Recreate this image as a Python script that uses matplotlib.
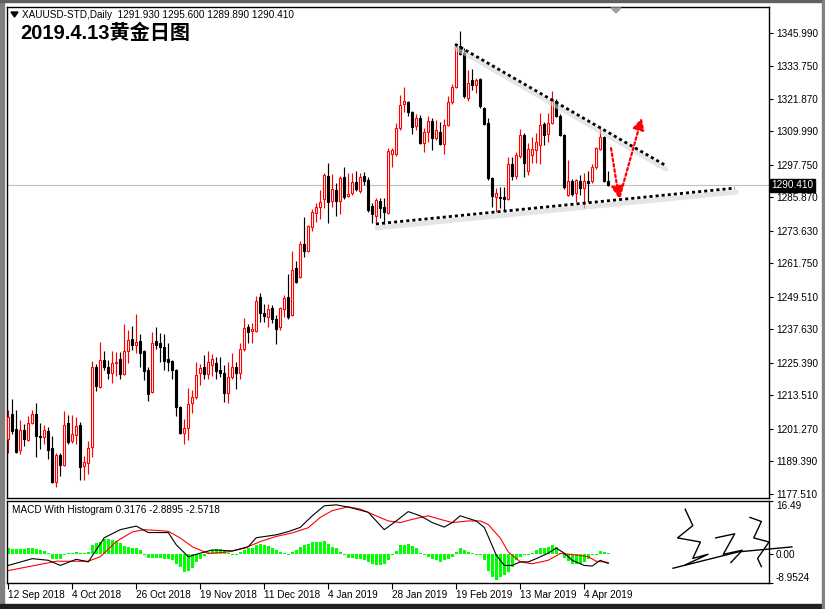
import matplotlib
matplotlib.use("Agg")
import numpy as np
import matplotlib.pyplot as plt
from matplotlib.patches import Rectangle, Polygon
from matplotlib.transforms import offset_copy, blended_transform_factory

# daily XAUUSD candles, 12 Sep 2018 .. 12 Apr 2019
opens = [1197.6, 1206.7, 1201.3, 1193.6, 1200.9, 1197.2, 1203.4, 1206.7, 1198.7, 1198.3,
         1200.5, 1194.3, 1181.9, 1191.8, 1188.1, 1203.4, 1196.9, 1199.1, 1202.7, 1187.7,
         1188.8, 1194.7, 1223.9, 1216.6, 1226.5, 1223.9, 1221.7, 1225.4, 1226.8, 1221.4,
         1229.8, 1234.2, 1232.0, 1233.4, 1229.8, 1222.8, 1214.8, 1233.4, 1232.7, 1231.2,
         1226.8, 1226.1, 1222.8, 1209.3, 1199.8, 1201.6, 1210.8, 1212.9, 1221.7, 1223.9,
         1221.4, 1224.6, 1225.4, 1222.8, 1221.7, 1214.4, 1220.3, 1223.9, 1221.7, 1230.5,
         1238.5, 1237.1, 1237.1, 1249.5, 1243.7, 1242.2, 1245.5, 1241.5, 1238.5, 1245.1,
         1249.5, 1242.9, 1260.1, 1256.8, 1268.9, 1266.3, 1275.1, 1280.2, 1282.4, 1285.3,
         1293.7, 1284.6, 1288.6, 1284.6, 1293.3, 1286.4, 1287.5, 1291.5, 1288.2, 1293.7,
         1292.3, 1282.8, 1279.1, 1284.6, 1282.4, 1280.2, 1301.8, 1301.8, 1311.3, 1320.1,
         1320.8, 1317.1, 1312.0, 1314.9, 1305.8, 1309.8, 1313.8, 1307.6, 1309.8, 1305.4,
         1312.4, 1320.8, 1326.3, 1341.2, 1338.7, 1322.2, 1328.8, 1327.0, 1329.2, 1318.6,
         1313.1, 1293.0, 1286.1, 1286.1, 1286.1, 1285.3, 1298.1, 1293.7, 1301.1, 1308.7,
         1295.5, 1301.4, 1303.2, 1305.0, 1312.7, 1309.1, 1313.1, 1321.1, 1315.6, 1308.7,
         1286.8, 1291.9, 1287.5, 1291.9, 1289.3, 1291.9, 1291.9, 1297.0, 1303.6, 1307.9,
         1291.93]
highs = [1208.2, 1212.2, 1208.2, 1204.5, 1203.1, 1206.0, 1208.2, 1210.8, 1203.4, 1202.7,
         1202.0, 1198.7, 1192.5, 1192.5, 1207.8, 1206.4, 1206.4, 1205.6, 1203.8, 1191.4,
         1196.9, 1226.1, 1225.0, 1233.1, 1229.8, 1226.5, 1229.8, 1229.4, 1229.4, 1239.6,
         1237.4, 1238.9, 1243.3, 1235.9, 1230.1, 1223.9, 1236.7, 1238.5, 1236.3, 1235.9,
         1232.7, 1226.5, 1223.2, 1209.6, 1204.9, 1216.2, 1215.5, 1225.7, 1225.0, 1228.3,
         1229.8, 1228.6, 1227.5, 1227.5, 1224.6, 1225.7, 1229.0, 1225.7, 1232.7, 1241.8,
         1239.6, 1240.0, 1249.9, 1250.9, 1246.9, 1246.9, 1246.6, 1242.9, 1245.8, 1250.2,
         1257.9, 1266.3, 1262.7, 1270.0, 1278.7, 1275.8, 1281.6, 1283.8, 1288.6, 1294.8,
         1298.5, 1294.5, 1291.2, 1293.7, 1297.0, 1294.8, 1294.8, 1295.5, 1294.8, 1295.2,
         1293.3, 1283.9, 1285.7, 1285.7, 1285.7, 1304.0, 1304.0, 1313.1, 1323.3, 1326.3,
         1321.1, 1317.5, 1316.4, 1316.0, 1311.3, 1315.6, 1314.9, 1314.2, 1313.5, 1314.6,
         1322.9, 1327.4, 1341.9, 1346.7, 1340.5, 1332.5, 1332.8, 1329.5, 1329.5, 1318.9,
         1314.9, 1293.3, 1289.3, 1289.7, 1289.7, 1300.7, 1300.7, 1302.5, 1310.9, 1309.4,
         1305.8, 1308.0, 1309.4, 1316.7, 1313.5, 1316.7, 1324.8, 1321.9, 1316.4, 1308.9,
         1299.6, 1292.6, 1292.6, 1294.1, 1294.8, 1295.5, 1298.1, 1304.3, 1312.0, 1308.3,
         1295.60]
lows = [1192.5, 1199.4, 1192.5, 1192.1, 1195.0, 1196.9, 1203.1, 1191.0, 1193.9, 1195.8,
        1190.3, 1181.5, 1180.1, 1184.1, 1187.9, 1195.8, 1196.1, 1195.8, 1182.6, 1182.6,
        1184.8, 1191.0, 1215.1, 1216.2, 1222.8, 1219.5, 1218.1, 1220.6, 1219.5, 1221.0,
        1225.4, 1230.1, 1229.0, 1223.9, 1219.2, 1211.5, 1214.4, 1230.5, 1225.7, 1222.8,
        1222.5, 1219.5, 1206.0, 1199.4, 1195.8, 1197.2, 1207.1, 1212.2, 1217.3, 1219.5,
        1219.5, 1220.6, 1219.5, 1220.3, 1211.1, 1210.8, 1219.5, 1215.9, 1219.5, 1229.8,
        1232.7, 1232.7, 1236.7, 1240.4, 1240.4, 1238.5, 1240.0, 1232.3, 1237.4, 1242.2,
        1241.5, 1242.6, 1254.6, 1256.6, 1264.1, 1265.9, 1273.6, 1276.9, 1278.0, 1282.0,
        1276.5, 1282.4, 1279.1, 1279.8, 1285.3, 1286.1, 1286.8, 1288.2, 1287.5, 1290.4,
        1280.6, 1276.5, 1276.9, 1278.4, 1276.2, 1279.8, 1297.0, 1301.1, 1310.5, 1317.1,
        1315.6, 1309.1, 1310.5, 1305.4, 1302.5, 1306.1, 1303.2, 1306.9, 1305.0, 1301.8,
        1312.0, 1320.1, 1325.9, 1337.9, 1322.2, 1321.1, 1325.2, 1324.1, 1318.6, 1312.4,
        1292.3, 1282.4, 1280.6, 1282.0, 1281.3, 1285.0, 1292.3, 1292.6, 1300.3, 1293.3,
        1294.1, 1298.5, 1298.5, 1298.1, 1305.0, 1306.1, 1312.9, 1315.3, 1308.5, 1289.0,
        1286.4, 1286.4, 1284.2, 1286.8, 1282.0, 1284.2, 1291.2, 1296.3, 1303.2, 1291.5,
        1289.89]
closes = [1205.6, 1200.5, 1192.9, 1200.9, 1197.6, 1203.4, 1206.7, 1198.7, 1198.4, 1200.9,
          1193.6, 1181.9, 1191.8, 1188.1, 1202.7, 1196.5, 1199.4, 1202.3, 1187.4, 1189.2,
          1194.3, 1223.9, 1217.0, 1226.5, 1223.9, 1221.7, 1225.4, 1225.7, 1221.4, 1229.8,
          1233.8, 1232.0, 1233.1, 1229.0, 1222.5, 1214.0, 1232.7, 1232.0, 1231.2, 1226.1,
          1225.7, 1222.8, 1209.3, 1199.8, 1201.6, 1210.4, 1212.9, 1221.0, 1223.6, 1221.4,
          1225.7, 1226.8, 1222.5, 1221.7, 1214.4, 1220.3, 1223.9, 1221.7, 1230.5, 1238.2,
          1236.7, 1237.8, 1248.0, 1243.7, 1242.6, 1245.1, 1241.5, 1237.8, 1245.5, 1249.1,
          1242.2, 1259.4, 1255.0, 1268.9, 1266.3, 1275.4, 1280.6, 1282.4, 1284.2, 1294.1,
          1284.2, 1289.0, 1284.6, 1293.0, 1286.1, 1287.2, 1291.5, 1289.0, 1293.3, 1291.9,
          1281.3, 1279.8, 1285.0, 1282.0, 1280.6, 1302.9, 1303.2, 1311.3, 1319.7, 1321.1,
          1317.1, 1311.6, 1314.9, 1305.8, 1309.8, 1313.8, 1307.6, 1310.5, 1305.4, 1312.4,
          1320.8, 1326.3, 1340.9, 1338.3, 1323.0, 1327.7, 1327.0, 1328.8, 1319.3, 1312.7,
          1293.0, 1286.4, 1287.5, 1285.7, 1285.3, 1298.1, 1293.7, 1301.4, 1308.7, 1298.5,
          1303.6, 1303.6, 1306.1, 1312.4, 1308.7, 1313.1, 1321.5, 1315.6, 1308.7, 1289.7,
          1291.9, 1287.2, 1292.3, 1289.3, 1291.9, 1291.2, 1297.0, 1303.9, 1307.9, 1291.9,
          1290.41]

hist = [1.80, 1.59, 1.48, 1.48, 1.48, 1.80, 2.01, 1.48, 1.27, 0.95,
        0.21, -1.38, -1.38, -1.38, -0.11, 0.21, 0.21, 0.74, 0.21, 0.21,
        0.53, 2.86, 3.39, 3.92, 4.66, 4.66, 4.45, 4.13, 3.39, 2.65,
        2.33, 2.01, 1.80, 1.27, -0.11, -1.17, -1.17, -1.17, -1.17, -1.38,
        -1.59, -1.91, -2.97, -4.03, -5.41, -5.09, -4.35, -2.44, -1.38, -0.64,
        0.53, 1.27, 1.59, 1.59, 0.95, 0.21, -0.11, -0.11, 0.74, 1.27,
        1.80, 2.01, 2.86, 3.07, 2.86, 2.65, 2.01, 1.27, 0.53, 0.21,
        -0.11, 0.74, 1.27, 2.33, 2.86, 3.18, 3.71, 3.92, 3.92, 4.13,
        3.07, 2.33, 1.80, 0.74, -0.11, -1.17, -1.17, -1.38, -1.38, -1.91,
        -2.44, -3.18, -3.50, -3.50, -2.97, -1.91, -0.32, 0.95, 2.86, 2.86,
        3.07, 2.65, 2.01, 0.21, -0.32, -0.85, -1.38, -1.91, -2.44, -1.91,
        -1.38, -0.85, 0.74, 1.80, 1.27, 0.74, 0.21, -0.11, -0.11, -1.91,
        -5.09, -7.21, -7.95, -7.21, -6.47, -5.41, -4.03, -1.91, -0.85, -0.11,
        -0.11, 0.21, 1.27, 1.80, 2.01, 2.33, 2.86, 2.33, 0.21, -1.17,
        -2.23, -2.97, -2.97, -2.97, -2.44, -1.38, -0.11, -0.11, 0.95, 0.53,
        0.21]

macd_bar = [0, 6, 10, 13, 17, 20, 24, 28, 32, 35, 40, 42, 45, 48, 51, 56, 60, 62, 67, 70,
            73, 76, 79, 82, 85, 90, 92, 94, 97, 100, 103, 106, 109, 111, 113, 115, 117, 119,
            120, 122, 124, 126, 128, 130, 132, 135, 137, 139, 141, 144, 146, 148, 150]
macd_val = [-3.5, -1.4, -1.9, -3.5, -1.6, -2.4, 5.1, 7.6, 8.7, 6.7, 6.7, 2.9, -0.8, 0.3, 1.3,
            1.0, 2.3, 5.1, 6.0, 7.0, 8.3, 11.9, 15.0, 15.3, 14.6, 13.0, 10.3, 7.6, 10.3, 13.2,
            11.9, 9.8, 8.4, 9.8, 11.9, 11.1, 10.3, 8.3, 5.5, -0.3, -3.5, -3.5, -2.4, -2.4,
            -1.4, 0.3, 1.9, 0.3, -1.9, -3.5, -3.7, -1.9, -2.89]
signal_bar = [0, 12, 20, 23, 27, 31, 34, 40, 43, 46, 50, 55, 59, 63, 67, 71, 75, 78, 81, 85,
              88, 91, 95, 98, 101, 105, 108, 111, 115, 118, 120, 123, 125, 128, 131, 135,
              138, 141, 145, 147, 150]
signal_val = [-5.1, -2.2, -2.2, -0.8, 3.9, 6.9, 7.6, 7.1, 5.0, 2.3, 0.2, 0.7, 1.8, 3.9, 5.5,
              6.6, 8.2, 11.4, 13.5, 14.7, 14.0, 12.4, 10.3, 9.8, 10.8, 11.9, 10.8, 9.8, 10.3,
              10.3, 9.2, 5.0, 0.7, -2.4, -3.0, -1.9, 0.2, -0.1, -0.8, -2.2, -2.57]

date_bars = [0, 16, 32, 48, 64, 80, 96, 112, 128, 144]
date_labels = ["12 Sep 2018", "4 Oct 2018", "26 Oct 2018", "19 Nov 2018", "11 Dec 2018",
               "4 Jan 2019", "28 Jan 2019", "19 Feb 2019", "13 Mar 2019", "4 Apr 2019"]
price_ticks = [1345.990, 1333.750, 1321.870, 1309.990, 1297.750, 1285.870, 1273.630,
               1261.750, 1249.510, 1237.630, 1225.390, 1213.510, 1201.270, 1189.390, 1177.510]
last_price = 1290.410

# drawn trend lines (bar index, price)
upper_x, upper_y = [111.7, 164.2], [1341.9, 1297.7]
lower_x, lower_y = [91.9, 181.7], [1276.2, 1289.3]
arrow_down = [(150.7, 1303.9), (152.7, 1285.6)]
arrow_up = [(152.9, 1286.3), (158.4, 1315.0)]

W, H = 825, 609
FONT = "Liberation Sans"
plt.rcParams['font.family'] = [FONT, 'DejaVu Sans']


def box(x0, y0, x1, y1):
    return [x0 / W, 1 - y1 / H, (x1 - x0) / W, (y1 - y0) / H]


fig = plt.figure(figsize=(W / 100, H / 100), dpi=100)
fig.patch.set_facecolor('white')

ax = fig.add_axes(box(7, 7, 769, 498))
axm = fig.add_axes(box(7, 501, 769, 583))

o, h, l, c = map(np.array, (opens, highs, lows, closes))
x = np.arange(len(o))
up = c >= o
col = np.where(up, 'red', 'black')

ax.axhline(last_price, color='#c0c0c0', lw=0.8, zorder=1)
ax.vlines(x, l, h, colors=col, lw=0.85, zorder=2)
ax.bar(x, np.abs(c - o), 0.58, bottom=np.minimum(o, c),
       facecolor=np.where(up, 'white', 'black'), edgecolor=col, linewidth=0.8, zorder=3)

# trend lines with a soft shadow
sh = offset_copy(ax.transData, fig=fig, x=1, y=-4, units='dots')
for xs, ys in ((upper_x, upper_y), (lower_x, lower_y)):
    ax.plot(xs, ys, color='#d4d4d4', lw=3.5, alpha=0.6, transform=sh, zorder=4,
            solid_capstyle='round')
    ax.plot(xs, ys, color='black', lw=2.0, linestyle=(0, (1.1, 1.1)),
            dash_capstyle='butt', zorder=5)

for (x0, y0), (x1, y1) in (arrow_down, arrow_up):
    ax.annotate('', xy=(x1, y1), xytext=(x0, y0),
                arrowprops=dict(arrowstyle='-|>,head_length=0.7,head_width=0.35',
                                color='red', lw=1.6, linestyle=(0, (1.2, 1.2)),
                                shrinkA=0, shrinkB=0), zorder=6)

ax.set_xlim(-0.325, 190.2)
ax.set_ylim(1176.03, 1355.49)
ax.set_xticks([])
ax.yaxis.tick_right()
ax.set_yticks(price_ticks)
ax.set_yticklabels([f"{v:.3f}" for v in price_ticks])
ax.tick_params(axis='y', direction='out', length=3, width=0.8, pad=2, labelsize=7.2,
               colors='black')

tr = blended_transform_factory(ax.transAxes, ax.transData)
ax.text(1.003, last_price, f"{last_price:.3f}", transform=tr, ha='left', va='center',
        color='white', fontsize=7.2,
        bbox=dict(boxstyle='square,pad=0.15', facecolor='black', edgecolor='black'))

for a in (ax, axm):
    for s in a.spines.values():
        s.set_color('black')
        s.set_linewidth(1.0)

# MACD panel
axm.bar(x, hist, 0.7, color='#00ff00', linewidth=0, zorder=2)
axm.plot(signal_bar, signal_val, color='red', lw=0.8, zorder=3)
axm.plot(macd_bar, macd_val, color='black', lw=0.8, zorder=4)
axm.set_xlim(-0.325, 190.2)
axm.set_ylim(-8.9524, 16.49)
axm.yaxis.tick_right()
axm.set_yticks([16.49, 0.0, -8.9524])
axm.set_yticklabels(["16.49", "0.00", "-8.9524"])
axm.tick_params(axis='y', direction='out', length=3, width=0.8, pad=2, labelsize=7.2)
ylabs = axm.get_yticklabels()
ylabs[0].set_va('top')
ylabs[2].set_va('bottom')
axm.set_xticks(date_bars)
axm.set_xticklabels(date_labels, ha='left')
axm.tick_params(axis='x', direction='out', length=4, width=0.8, pad=1, labelsize=7.2)
axm.text(0.007, 0.95, "MACD With Histogram 0.3176 -2.8895 -2.5718", transform=axm.transAxes,
         ha='left', va='top', fontsize=7.2)

# signature (rough strokes)
sig = axm.transAxes
sx = [[0.874, 0.96, 1.03], [0.89, 0.9, 0.88, 0.91, 0.9, 0.92, 0.89],
      [0.93, 0.955, 0.94, 0.965, 0.95], [0.975, 0.99, 0.98, 1.0, 0.985, 0.99]]
sy = [[0.18, 0.38, 0.44], [0.9, 0.7, 0.55, 0.5, 0.3, 0.35, 0.22],
      [0.55, 0.6, 0.35, 0.4, 0.25], [0.8, 0.75, 0.55, 0.5, 0.3, 0.2]]
for xs, ys in zip(sx, sy):
    axm.plot(xs, ys, color='black', lw=1.0, transform=sig, clip_on=False, zorder=6)

# header texts
fig.text(22 / W, 1 - 15 / H, "XAUUSD-STD,Daily  1291.930 1295.600 1289.890 1290.410",
         ha='left', va='center', fontsize=7.2)
fig.patches.append(Polygon([[11 / W, 1 - 12 / H], [18 / W, 1 - 12 / H], [14.5 / W, 1 - 17 / H]],
                           closed=True, transform=fig.transFigure, color='black'))
fig.text(20 / W, 1 - 33 / H, "2019.4.13黄金日图", ha='left', va='center', fontsize=14.5,
         fontweight='bold', family=[FONT, 'Noto Sans CJK SC'])
fig.patches.append(Polygon([[611 / W, 1 - 8 / H], [621 / W, 1 - 8 / H], [616 / W, 1 - 13 / H]],
                           closed=True, transform=fig.transFigure, color='#a0a0a0'))

# window frame
fig.patches.append(Rectangle((0, 0), 4 / W, 1, transform=fig.transFigure, color='#808080'))
fig.patches.append(Rectangle((0, 1 - 2 / H), 1, 2 / H, transform=fig.transFigure, color='#606060'))
fig.patches.append(Rectangle((0, 0), 1, 5 / H, transform=fig.transFigure, color='#202020'))
fig.patches.append(Rectangle((1 - 3 / W, 0), 3 / W, 1, transform=fig.transFigure, color='#808080'))

fig.savefig("out.png", dpi=100)
